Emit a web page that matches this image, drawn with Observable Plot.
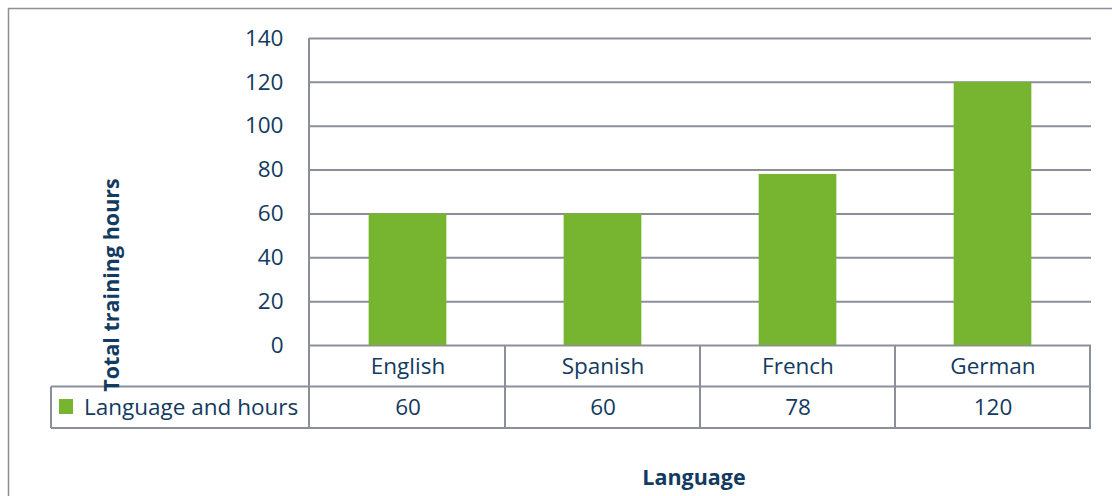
<!DOCTYPE html>
<html>
<head>
<meta charset="utf-8">
<script src="https://cdn.jsdelivr.net/npm/d3@7"></script>
<script src="https://cdn.jsdelivr.net/npm/@observablehq/plot@0.6"></script>
<style>
  html, body { margin: 0; padding: 0; background: #fff; }
  #chart svg { display: block; }
</style>
</head>
<body>
<div id="chart"></div>
<script>
const languages = ["English", "Spanish", "French", "German"];
const hours = [60, 60, 78, 120];
const yTicks = [0, 20, 40, 60, 80, 100, 120, 140];
const seriesName = "Language and hours";
const yTitle = "Total training hours";
const xTitle = "Language";

const data = languages.map((lang, i) => ({lang, hours: hours[i]}));

const W = 1112, H = 496;
const ML = 309, MR = 21, MT = 38, MB = 151;
const step = (W - ML - MR) / languages.length;
const GREEN = "#77b531";
const LINE = "#8c8f99";
const TEXT = "#133a60";
const FONT = "'Open Sans', sans-serif";
const FS = 22.5;

const frameMark = (index, scales, values, dim) => {
  const g = d3.create("svg:g");
  const x = scales.x;
  const y0 = dim.height - dim.marginBottom; // zero line
  const r1 = y0 + 41.5, r2 = y0 + 83;
  const tableLeft = 51;
  const right = dim.width - dim.marginRight;
  // outer chart border (top & left)
  g.append("line").attr("x1", 8).attr("x2", dim.width).attr("y1", 8.5).attr("y2", 8.5)
    .attr("stroke", LINE).attr("stroke-width", 1.5);
  g.append("line").attr("x1", 8.5).attr("x2", 8.5).attr("y1", 8).attr("y2", dim.height)
    .attr("stroke", LINE).attr("stroke-width", 1.5);
  // table horizontal lines
  for (const yy of [r1, r2]) {
    g.append("line").attr("x1", tableLeft).attr("x2", right).attr("y1", yy).attr("y2", yy)
      .attr("stroke", LINE).attr("stroke-width", 2);
  }
  // left axis line through table
  g.append("line").attr("x1", dim.marginLeft).attr("x2", dim.marginLeft)
    .attr("y1", dim.marginTop).attr("y2", r2).attr("stroke", LINE).attr("stroke-width", 2);
  g.append("line").attr("x1", tableLeft).attr("x2", tableLeft)
    .attr("y1", r1).attr("y2", r2).attr("stroke", LINE).attr("stroke-width", 2);
  // column separators
  languages.forEach((c) => {
    const xr = x(c) + x.bandwidth();
    g.append("line").attr("x1", xr).attr("x2", xr).attr("y1", y0).attr("y2", r2)
      .attr("stroke", LINE).attr("stroke-width", 2);
  });
  // legend swatch + series name
  g.append("rect").attr("x", 59).attr("y", 399).attr("width", 14).attr("height", 15).attr("fill", GREEN);
  g.append("text").attr("x", 84).attr("y", 407).attr("dy", "0.35em").attr("text-anchor", "start")
    .attr("font-family", FONT).attr("font-size", 22.5).attr("fill", TEXT).text(seriesName);
  // axis titles
  g.append("text").attr("transform", `translate(119,285) rotate(-90)`)
    .attr("text-anchor", "middle").attr("font-family", FONT).attr("font-weight", "bold")
    .attr("font-size", 21.5).attr("fill", TEXT).text(yTitle);
  g.append("text").attr("x", 694).attr("y", 485).attr("text-anchor", "middle")
    .attr("font-family", FONT).attr("font-weight", "bold")
    .attr("font-size", 21.5).attr("fill", TEXT).text(xTitle);
  return g.node();
};

const chart = Plot.plot({
  width: W,
  height: H,
  marginLeft: ML,
  marginRight: MR,
  marginTop: MT,
  marginBottom: MB,
  style: {fontFamily: FONT, color: TEXT, background: "#fff", overflow: "visible"},
  x: {domain: languages, padding: 0, axis: null},
  y: {domain: [0, 140], ticks: yTicks, axis: null},
  marks: [
    Plot.gridY(yTicks, {stroke: LINE, strokeOpacity: 1, strokeWidth: 2}),
    Plot.barY(data, {x: "lang", y: "hours", fill: GREEN, insetLeft: step * 0.3, insetRight: step * 0.3}),
    Plot.axisY(yTicks, {tickSize: 0, tickPadding: 26, fontSize: FS, fill: TEXT, label: null}),
    Plot.text(data, {x: "lang", text: "lang", frameAnchor: "bottom", lineAnchor: "middle", dy: 21, fontSize: FS, fill: TEXT}),
    Plot.text(data, {x: "lang", text: d => String(d.hours), frameAnchor: "bottom", lineAnchor: "middle", dy: 62, fontSize: FS, fill: TEXT}),
    frameMark
  ]
});

document.getElementById("chart").appendChild(chart);
</script>
</body>
</html>
